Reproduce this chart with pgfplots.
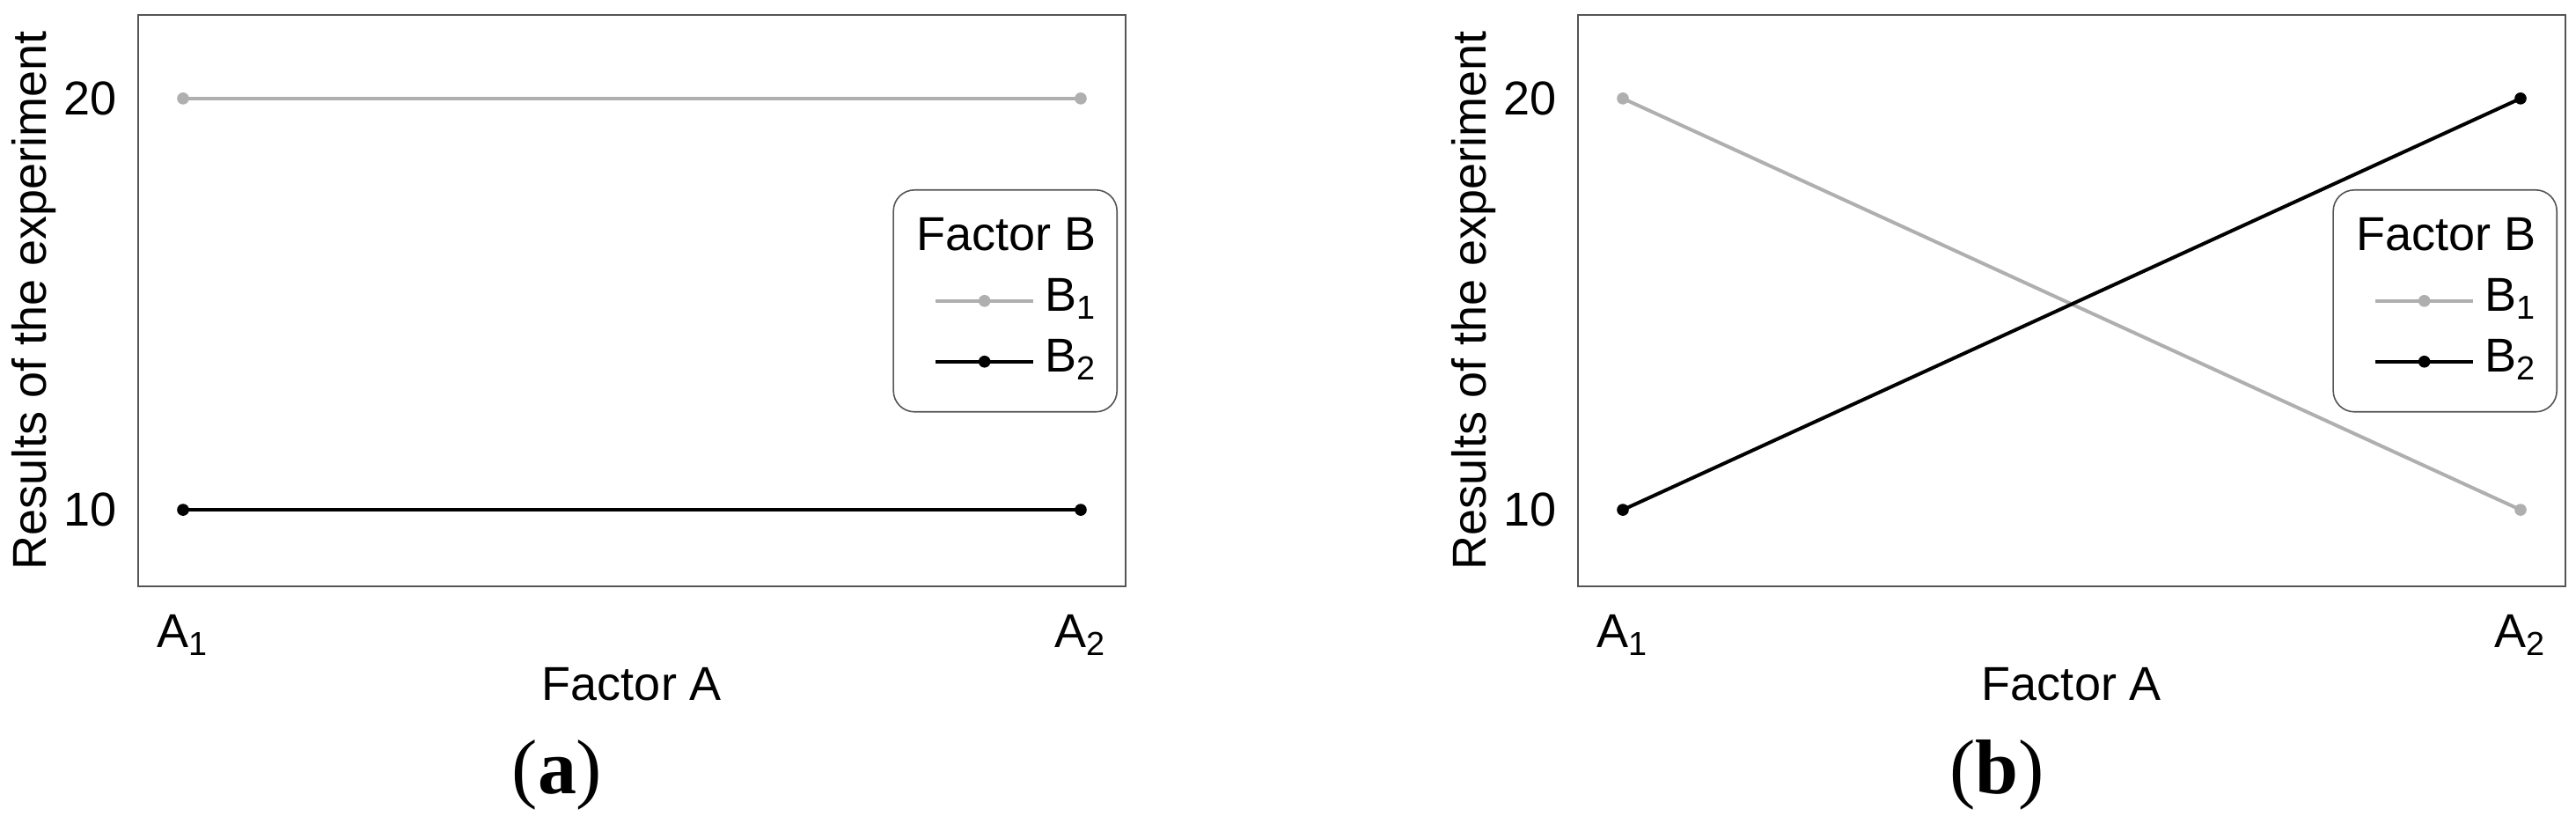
\documentclass[border=0pt]{standalone}
\usepackage{fontspec}
\setmainfont{Liberation Sans}
\newfontfamily\capfont{Liberation Serif}
\usepackage{pgfplots}
\pgfplotsset{compat=1.18}

\definecolor{bone}{RGB}{175,175,175}
\definecolor{frame}{RGB}{85,85,85}
\newcommand{\fs}{\fontsize{13.5}{16}\selectfont}

% one panel of the interaction plot
\pgfplotsset{
  panel/.style={
    scale only axis, width=280.5pt, height=162.25pt,
    xmin=0.95, xmax=2.05, ymin=8.14, ymax=22.03,
    xtick={1,2}, xticklabels={A\textsubscript{1},A\textsubscript{2}},
    ytick={10,20}, yticklabels={10,20},
    major tick length=0pt,
    axis line style={draw=frame, line width=0.7pt},
    tick label style={font=\fs},
    xticklabel style={inner sep=0pt, anchor=north, yshift=-8pt},
    yticklabel style={inner sep=0pt, anchor=east, xshift=-6pt},
    xlabel={Factor A}, ylabel={Results of the experiment},
    every axis x label/.style={at={(axis description cs:0.5,-0.171)}, anchor=center, font=\fs},
    every axis y label/.style={at={(axis description cs:-0.1052,0.5)}, rotate=90, anchor=center, font=\fs},
    title style={at={(axis description cs:0,0)}, anchor=center, xshift=119pt, yshift=-59.5pt,
      font=\capfont\fontsize{22}{26}\selectfont},
    legend cell align=left,
    legend style={at={(axis description cs:1,1)}, anchor=north east, xshift=-2.25pt, yshift=-49.5pt,
      font=\fs, draw=frame, rounded corners=6pt, inner xsep=5.75pt, inner ysep=7.25pt,
      row sep=3.25pt, column sep=2.75pt,
      nodes={inner sep=0pt, text height=10pt, text depth=4pt}},
    legend image code/.code={\path (-5.75pt,0pt);
      \draw[mark repeat=2, mark phase=2, #1] plot coordinates {(0pt,0pt) (13.875pt,0pt) (27.75pt,0pt)};},
    every axis plot/.append style={line width=1pt, mark=*, mark size=1.5pt,
      mark options={solid, line width=0.4pt}},
  },
}

\begin{document}
\begin{tikzpicture}
\useasboundingbox (-39.25pt,-71.75pt) rectangle (692.5pt,166.5pt);

\begin{axis}[panel, at={(0pt,0pt)}, anchor=south west, title={(\textbf{a})}]
\addlegendimage{empty legend}
\addlegendentry{\hspace*{-36.5pt}Factor B}
\addplot[color=bone] coordinates {(1,20) (2,20)};
\addlegendentry{B\textsubscript{1}}
\addplot[color=black] coordinates {(1,10) (2,10)};
\addlegendentry{B\textsubscript{2}}
\end{axis}

\begin{axis}[panel, at={(409pt,0pt)}, anchor=south west, title={(\textbf{b})}]
\addlegendimage{empty legend}
\addlegendentry{\hspace*{-36.5pt}Factor B}
\addplot[color=bone] coordinates {(1,20) (2,10)};
\addlegendentry{B\textsubscript{1}}
\addplot[color=black] coordinates {(1,10) (2,20)};
\addlegendentry{B\textsubscript{2}}
\end{axis}
\end{tikzpicture}
\end{document}
